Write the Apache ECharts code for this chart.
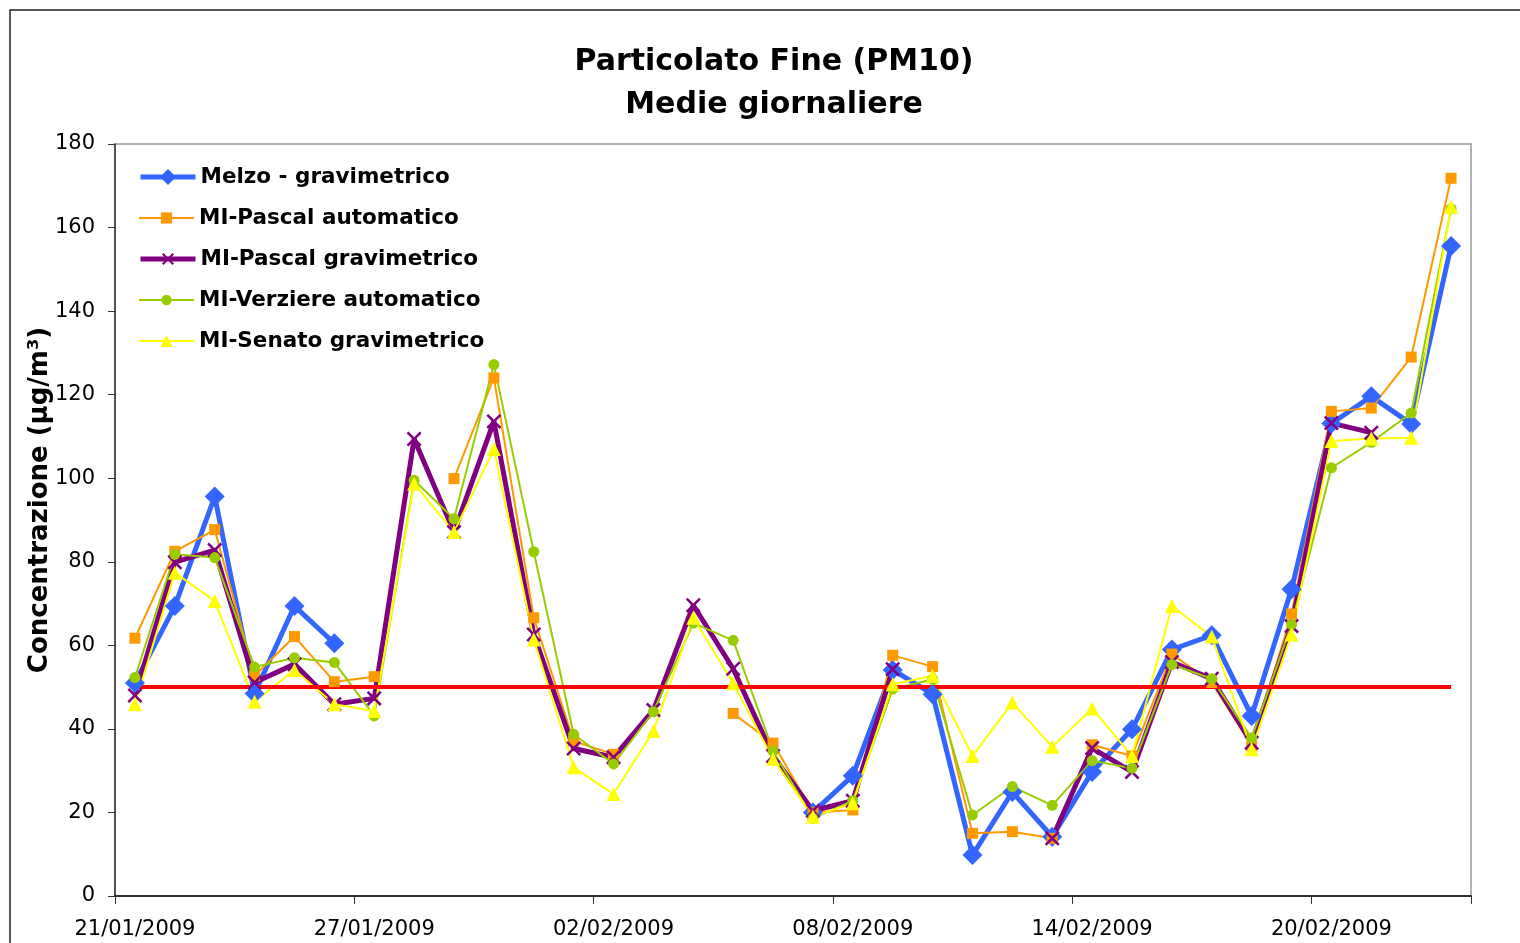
<!DOCTYPE html>
<html>
<head>
<meta charset="utf-8">
<script src="https://cdn.jsdelivr.net/npm/echarts@6/dist/echarts.min.js"></script>
<style>
html,body{margin:0;padding:0;background:#fff;}
#chart{width:1520px;height:943px;}
</style>
</head>
<body>
<div id="chart"></div>
<script>
const dates = ['21/01/2009','22/01/2009','23/01/2009','24/01/2009','25/01/2009','26/01/2009','27/01/2009','28/01/2009','29/01/2009','30/01/2009','31/01/2009',
  '01/02/2009','02/02/2009','03/02/2009','04/02/2009','05/02/2009','06/02/2009','07/02/2009','08/02/2009','09/02/2009','10/02/2009','11/02/2009',
  '12/02/2009','13/02/2009','14/02/2009','15/02/2009','16/02/2009','17/02/2009','18/02/2009','19/02/2009','20/02/2009','21/02/2009','22/02/2009','23/02/2009'];

const melzoGrav = [51, 69.4, 95.6, 48.5, 69.4, 60.5, null, null, null, null, null, null, null, null, null, null, null,
  20, 28.8, 54.1, 48.3, 9.8, 24.9, 14.2, 29.7, 39.9, 59, 62.4, 43.1, 73.4, 113.1, 119.6, 113, 155.6];
const pascalAuto = [61.7, 82.5, 87.7, 52.7, 62.1, 51.3, 52.5, null, 99.9, 124, 66.6, 37.1, 33.9, null, null, 43.7, 36.6,
  20, 20.6, 57.6, 54.9, 15, 15.4, 13.8, 36.2, 33.5, 57.9, 51.1, 35.9, 67.5, 116, 116.8, 129, 171.8];
const pascalGrav = [48, 79.9, 82.8, 51.1, 55.5, 45.9, 47.3, 109.4, 87.1, 113.6, 62.6, 35.3, 33.2, 44.5, 69.6, 54.4, 33.5,
  20.4, 22.8, 54.3, null, null, null, 13.8, 35.4, 29.7, 56, 52, 36.7, 64.6, 113.2, 110.9, null, null];
const verziereAuto = [52.3, 81.8, 81, 54.8, 57, 55.9, 43.1, 99.5, 90.3, 127.2, 82.4, 38.7, 31.6, 44.1, 65.3, 61.2, 34.7,
  18.6, 22.8, 49.5, 51.9, 19.4, 26.2, 21.7, 32.4, 30.6, 55.4, 52, 37.8, 65, 102.5, 108.6, 115.6, 164.5];
const senatoGrav = [45.9, 77.4, 70.6, 46.5, 54.1, 45.9, 44.3, 98.7, 87.1, 107, 61.4, 30.8, 24.4, 39.5, 66.6, 50.9, 32.8,
  19, 22.2, 50.7, 52.7, 33.5, 46.3, 35.7, 44.9, 33.5, 69.4, 62.1, 35.1, 62.6, 108.9, 109.5, 109.7, 165];
const limitValue = [50, 50, 50, 50, 50, 50, 50, 50, 50, 50, 50, 50, 50, 50, 50, 50, 50,
  50, 50, 50, 50, 50, 50, 50, 50, 50, 50, 50, 50, 50, 50, 50, 50, 50];

const seriesNames = ['Melzo - gravimetrico','MI-Pascal automatico','MI-Pascal gravimetrico','MI-Verziere automatico','MI-Senato gravimetrico'];
const yTicks = {min: 0, max: 180, step: 20};

const FONT = '"DejaVu Sans", Verdana, sans-serif';
const xSymbol = 'path://M0,1.2L1.2,0L5,3.8L8.8,0L10,1.2L6.2,5L10,8.8L8.8,10L5,6.2L1.2,10L0,8.8L3.8,5Z';

// one legend block per entry so each icon can have its own marker size
const legendIconHeights = [20, 14, 15, 13, 15];
const legendRowCenters = [177, 218, 259, 300, 341];
const legends = seriesNames.map((n, i) => ({
  data: [n],
  orient: 'vertical',
  left: 138,
  top: legendRowCenters[i] - 11,
  padding: 0,
  itemWidth: 55, itemHeight: legendIconHeights[i],
  lineStyle: {width: 'inherit'},
  textStyle: {fontFamily: FONT, fontWeight: 'bold', fontSize: 21.5, color: '#000', lineHeight: 22}
}));

const chart = echarts.init(document.getElementById('chart'), null, {renderer: 'canvas'});
chart.setOption({
  animation: false,
  backgroundColor: '#ffffff',
  graphic: [{
    type: 'rect', silent: true,
    shape: {x: 10, y: 10, width: 1530, height: 950},
    style: {fill: 'none', stroke: '#222', lineWidth: 1.5}
  }],
  title: {
    text: 'Particolato Fine (PM10)\nMedie giornaliere',
    left: 769, top: 36,
    textAlign: 'center',
    textStyle: {fontFamily: FONT, fontWeight: 'bold', fontSize: 30, color: '#000', lineHeight: 43, align: 'center'}
  },
  legend: legends,
  grid: {
    left: 115, top: 144, right: 49, bottom: 47,
    show: true, borderColor: '#999', borderWidth: 1.5, backgroundColor: 'transparent',
    containLabel: false
  },
  xAxis: {
    type: 'category',
    data: dates,
    boundaryGap: true,
    axisLine: {lineStyle: {color: '#333', width: 2}},
    axisTick: {show: true, interval: 5, length: 8, lineStyle: {color: '#333', width: 1}},
    axisLabel: {interval: 5, fontFamily: FONT, fontSize: 21, color: '#000', margin: 23},
    splitLine: {show: false}
  },
  yAxis: {
    type: 'value',
    min: yTicks.min, max: yTicks.max, interval: yTicks.step,
    name: 'Concentrazione (µg/m³)',
    nameLocation: 'middle', nameRotate: 90, nameGap: 62,
    nameMoveOverlap: false,
    nameTextStyle: {fontFamily: FONT, fontWeight: 'bold', fontSize: 26, color: '#000', padding: [0, 0, 0, 40]},
    axisLine: {show: true, lineStyle: {color: '#333', width: 1.5}},
    axisTick: {show: true, length: 7, lineStyle: {color: '#333'}},
    axisLabel: {fontFamily: FONT, fontSize: 21, color: '#000', margin: 20},
    splitLine: {show: false}
  },
  series: [
    {name: seriesNames[0], type: 'line', data: melzoGrav, symbol: 'diamond', symbolSize: 20,
      lineStyle: {color: '#3366FF', width: 5}, itemStyle: {color: '#3366FF'}, connectNulls: false},
    {name: seriesNames[1], type: 'line', data: pascalAuto, symbol: 'rect', symbolSize: 11,
      lineStyle: {color: '#FF9900', width: 2}, itemStyle: {color: '#FF9900'}},
    {name: seriesNames[2], type: 'line', data: pascalGrav, symbol: xSymbol, symbolSize: 15,
      lineStyle: {color: '#800080', width: 5}, itemStyle: {color: '#800080'}},
    {name: seriesNames[3], type: 'line', data: verziereAuto, symbol: 'circle', symbolSize: 11,
      lineStyle: {color: '#99CC00', width: 2}, itemStyle: {color: '#99CC00'}},
    {name: seriesNames[4], type: 'line', data: senatoGrav, symbol: 'triangle', symbolSize: 14,
      lineStyle: {color: '#FFFF00', width: 2}, itemStyle: {color: '#FFFF00'}},
    {name: 'Limite', type: 'line', data: limitValue, symbol: 'none',
      lineStyle: {color: '#FF0000', width: 4}, itemStyle: {color: '#FF0000'}}
  ]
});
</script>
</body>
</html>
